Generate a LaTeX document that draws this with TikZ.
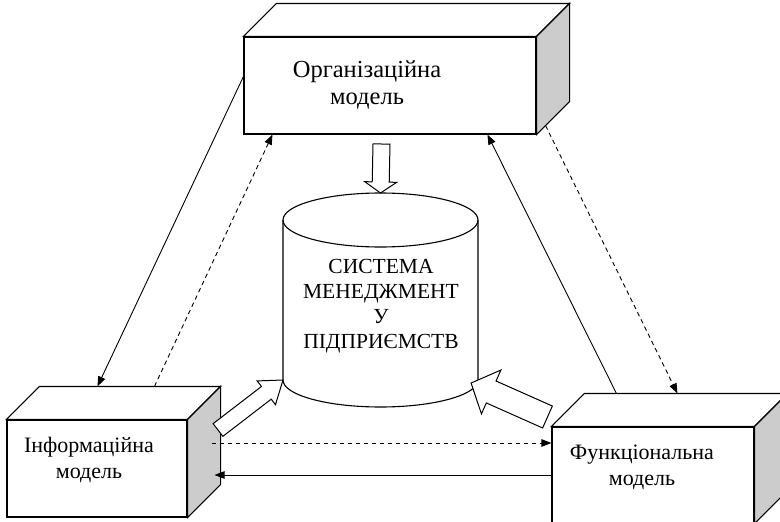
\documentclass[tikz,border=0pt]{standalone}
\usepackage{fontspec}
\setmainfont{Liberation Serif}
\usetikzlibrary{arrows.meta,calc}

\tikzset{
  face/.style={draw, line width=1.1pt, fill=white, inner sep=0pt},
  topface/.style={draw, line width=1.1pt, fill=white, line join=miter},
  sideface/.style={draw, line width=1.1pt, fill=gray!40, line join=miter},
  label/.style={align=center, inner sep=0pt},
  link/.style={line width=0.9pt, -{Triangle[length=10pt,width=7.5pt]}},
  dlink/.style={link, dash pattern=on 4.5pt off 3.5pt},
  blockarrow/.style={draw, line width=1pt, fill=white, line join=miter},
  drum/.style={line width=1.1pt}
}

% Hollow block arrow from tail #1 to tip #2;
% #3 shaft width, #4 head width, #5 head length
\newcommand{\blockarr}[5]{%
  \path[blockarrow] let \p1=(#1), \p2=(#2),
      \n1={atan2(\y2-\y1,\x2-\x1)},
      \n2={veclen(\x2-\x1,\y2-\y1)} in
    [shift={(\p1)}, rotate=\n1]
    (0,{#3/2}) -- ({\n2-#5},{#3/2}) -- ({\n2-#5},{#4/2}) -- (\n2,0)
    -- ({\n2-#5},{-#4/2}) -- ({\n2-#5},{-#3/2}) -- (0,{-#3/2}) -- cycle;}

% 3D box: front face node #1 with depth #2
\newcommand{\boxsides}[2]{%
  \path[topface] (#1.north west) -- ++(#2,#2) -| ([shift={(#2,#2)}]#1.north east) -- (#1.north east) -- cycle;
  \path[sideface] (#1.north east) -- ++(#2,#2) -- ([shift={(#2,#2)}]#1.south east) -- (#1.south east) -- cycle;}

\begin{document}
\begin{tikzpicture}[x=1pt,y=1pt]
  \useasboundingbox (0,0) rectangle (780,-522);
  \clip (0,0) rectangle (780,-522);

  % --- the three models ---
  \node[face, minimum width=292pt, minimum height=97pt] (org) at (390,-85.5) {};
  \boxsides{org}{33}
  \node[label, font=\fontsize{24.5}{27}\selectfont] (orgtext) at (367,-85)
    {Організаційна\\модель};

  \node[face, minimum width=180pt, minimum height=97pt] (inf) at (97,-468.5) {};
  \boxsides{inf}{33}
  \node[label, font=\fontsize{22}{26}\selectfont] (inftext) at (89,-460)
    {Інформаційна\\модель};

  \node[face, minimum width=202pt, minimum height=96pt] (fun) at (653,-475) {};
  \boxsides{fun}{33}
  \node[label, font=\fontsize{22}{26}\selectfont] (funtext) at (642,-467)
    {Функціональна\\модель};

  % --- the management system drum ---
  \coordinate (cyltl) at (283,-220);
  \coordinate (cyltr) at (478,-220);
  \coordinate (cylbl) at (283,-380);
  \coordinate (cylbr) at (478,-380);
  \coordinate (cyltop) at (380.5,-193);
  \path[drum, draw, fill=white] (cyltl) -- (cylbl)
    arc[start angle=180, end angle=360, x radius=97.5pt, y radius=27pt]
    -- (cyltr) arc[start angle=0, end angle=180, x radius=97.5pt, y radius=27pt];
  \draw[drum] (cyltl) arc[start angle=180, end angle=360, x radius=97.5pt, y radius=27pt];
  \node[label, font=\fontsize{21.5}{25}\selectfont] (sys) at (381,-306)
    {СИСТЕМА\\МЕНЕДЖМЕНТ\\У\\ПІДПРИЄМСТВ};

  % --- block arrows into the system ---
  \coordinate (orgout) at (381.5,-144);
  \blockarr{orgout}{cyltop}{17}{32}{11}
  \coordinate (infout) at (218,-430);
  \blockarr{infout}{cylbl}{16}{30}{21}
  \coordinate (funout) at (547.5,-417);
  \coordinate (funin) at (471,-383);
  \blockarr{funout}{funin}{24}{48}{22}

  % --- links between the models ---
  \coordinate (infback) at ([shift={(33,33)}]inf.north west);
  \coordinate (funback) at ([shift={(33,33)}]fun.north west);

  \draw[link] ([yshift=-40]org.north west) -- ([xshift=58]infback);
  \draw[dlink] ([xshift=115]infback) -- ([xshift=29]org.south west);
  \draw[link] ([xshift=32]funback) -- ([xshift=244]org.south west);
  \draw[dlink] ([shift={(9,9)}]org.south east) -- ([xshift=93]funback);
  \draw[dlink] ([shift={(24,25.5)}]inf.east) -- ([yshift=32]fun.west);
  \draw[link] (fun.west) -- ([shift={(27,-6.5)}]inf.east);
\end{tikzpicture}
\end{document}
